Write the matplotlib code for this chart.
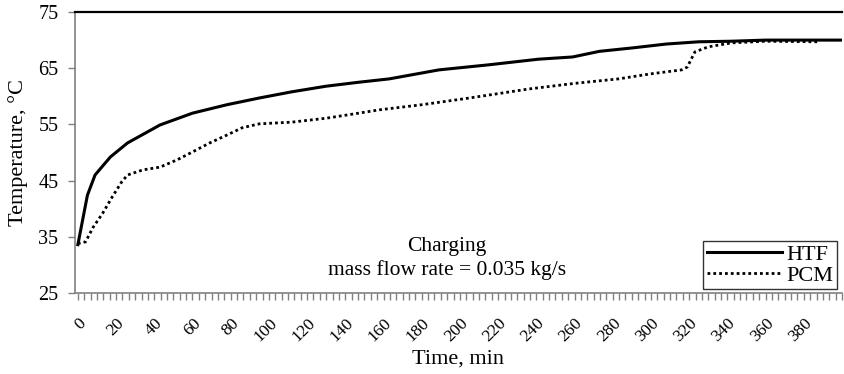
import matplotlib
matplotlib.use("Agg")
import matplotlib.pyplot as plt
from matplotlib.ticker import MultipleLocator

plt.rcParams['font.family'] = ['Liberation Serif', 'DejaVu Serif']

htf_time = [0, 5, 9, 17, 26, 43, 60, 78, 95, 112, 130, 147, 163, 189, 215, 241, 259, 273, 290, 308, 325, 342, 360, 400]
htf_temp = [33.6, 42.4, 46.0, 49.2, 51.7, 54.9, 57.0, 58.5, 59.7, 60.8, 61.8, 62.5, 63.1, 64.7, 65.6, 66.6, 67.0, 68.0, 68.6, 69.3, 69.7, 69.8, 70.0, 70.0]

pcm_time = [0, 4, 8, 13, 18, 23, 26, 34, 43, 52, 60, 69, 78, 86, 95, 112, 130, 147, 158, 180, 203, 236, 260, 283, 300, 316, 319, 323, 330, 342, 360, 387]
pcm_temp = [33.8, 34.1, 36.7, 39.2, 42.1, 44.8, 46.0, 46.9, 47.4, 48.7, 50.1, 51.7, 53.1, 54.4, 55.1, 55.4, 56.1, 57.0, 57.6, 58.5, 59.6, 61.3, 62.3, 63.1, 64.0, 64.7, 65.2, 67.9, 68.8, 69.5, 69.8, 69.7]

x_ticks = list(range(0, 400, 20))
y_ticks = [25, 35, 45, 55, 65, 75]

W, H = 844, 374
fig = plt.figure(figsize=(W / 100, H / 100), dpi=100)
ax = fig.add_axes([75 / W, (H - 293) / H, (842 - 75) / W, (293 - 12) / H])

ax.plot(htf_time, htf_temp, color='black', lw=2.2, solid_joinstyle='round', label='HTF')
ax.plot(pcm_time, pcm_temp, color='black', lw=2.0, linestyle=(0, (1, 1.1)), label='PCM')

ax.set_xlim(-1.5, 400)
ax.set_ylim(25, 75)
ax.set_yticks(y_ticks)
ax.set_xticks(x_ticks)
ax.set_xticklabels([str(v) for v in x_ticks], rotation=45, ha='right', rotation_mode='anchor')
ax.xaxis.set_minor_locator(MultipleLocator(20 / 6))
ax.tick_params(axis='x', which='both', direction='out', length=5, width=1, colors='#808080', labelcolor='black', labelsize=12.5, pad=11)
ax.tick_params(axis='y', which='major', direction='out', length=5, width=1, colors='#808080', labelcolor='black', labelsize=14.5, pad=7)

for s in ['left', 'bottom']:
    ax.spines[s].set_color('#808080')
    ax.spines[s].set_linewidth(1.2)
ax.spines['right'].set_visible(False)
ax.spines['top'].set_color('black')
ax.spines['top'].set_linewidth(1.6)

ax.set_xlabel('Time, min', fontsize=16, labelpad=3)
ax.set_ylabel('Temperature, °C', fontsize=16, labelpad=7)

ax.text(0.485, 0.164, 'Charging', transform=ax.transAxes, ha='center', va='center', fontsize=15.5)
ax.text(0.485, 0.083, 'mass flow rate = 0.035 kg/s', transform=ax.transAxes, ha='center', va='center', fontsize=15.5)

leg = ax.legend(loc='lower right', bbox_to_anchor=(837 / W, (H - 289) / H), bbox_transform=fig.transFigure,
                fontsize=16, frameon=True, fancybox=False, handlelength=3.4, handletextpad=0.2,
                borderpad=0.15, labelspacing=0.0, borderaxespad=0)
leg.get_frame().set_edgecolor('black')
leg.get_frame().set_linewidth(1.0)

fig.savefig('out.png', dpi=100)
